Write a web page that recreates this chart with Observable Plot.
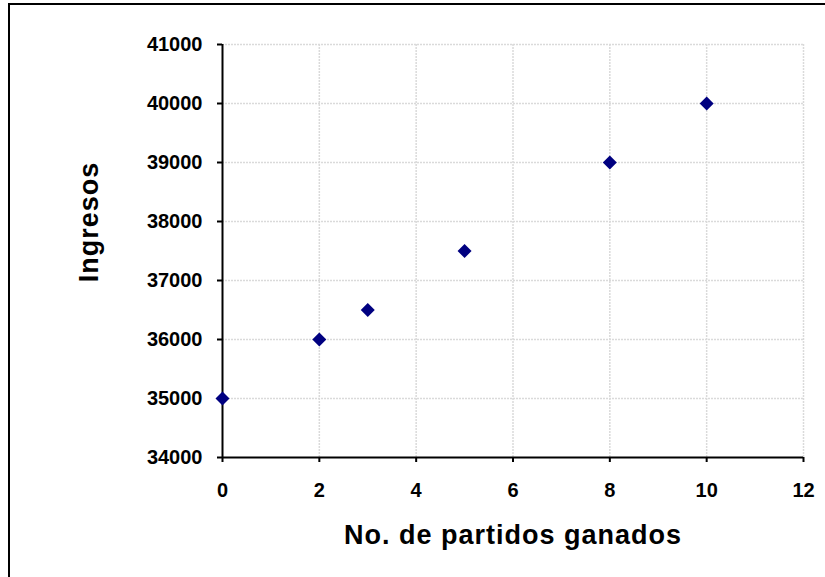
<!DOCTYPE html>
<html><head><meta charset="utf-8">
<script src="https://cdn.jsdelivr.net/npm/d3@7"></script>
<script src="https://cdn.jsdelivr.net/npm/@observablehq/plot@0.6"></script>
<style>
body{margin:0;background:#fff;}
#wrap{position:relative;width:825px;height:577px;overflow:hidden;background:#fff;}
#wrap svg{position:absolute;left:0;top:0;}
#border{position:absolute;left:8px;top:3px;width:900px;height:700px;border-left:2.5px solid #000;border-top:2.5px solid #000;pointer-events:none;}
</style></head><body><div id="wrap"><div id="border"></div></div>
<script>
const partidos = [0, 2, 3, 5, 8, 10];
const ingresos = [35000, 36000, 36500, 37500, 39000, 40000];
const xTicks = [0, 2, 4, 6, 8, 10, 12];
const yTicks = [34000, 35000, 36000, 37000, 38000, 39000, 40000, 41000];
const xTitle = "No. de partidos ganados";
const yTitle = "Ingresos";

const data = partidos.map((x, i) => ({x, y: ingresos[i]}));
const gridStyle = {stroke: "#dadada", strokeOpacity: 1, strokeWidth: 1.5, strokeDasharray: "2,1"};

const chart = Plot.plot({
  width: 825, height: 577,
  marginLeft: 222, marginRight: 22, marginTop: 44, marginBottom: 120,
  x: {domain: [0, 12]},
  y: {domain: [34000, 41000]},
  style: {fontFamily: "'Liberation Sans', Arial, sans-serif", fontSize: "20px", fontWeight: "bold", color: "#000", background: "transparent"},
  marks: [
    Plot.gridX(xTicks.filter(d => d > 0), gridStyle),
    Plot.gridY(yTicks.filter(d => d > 34000), gridStyle),
    Plot.ruleX([0], {stroke: "#000", strokeWidth: 2}),
    Plot.ruleY([34000], {stroke: "#000", strokeWidth: 2}),
    Plot.axisX(xTicks, {tickSize: 5, tickPadding: 20, strokeWidth: 2, tickFormat: d3.format("d"), fontSize: 20, fontWeight: "bold", label: null}),
    Plot.axisY(yTicks, {tickSize: 5, tickPadding: 15, strokeWidth: 2, tickFormat: d3.format("d"), fontSize: 20, fontWeight: "bold", label: null}),
    Plot.dot(data, {x: "x", y: "y", symbol: "diamond2", r: 6.3, fill: "#000080", stroke: "none"}),
    Plot.text([xTitle], {frameAnchor: "bottom", textAnchor: "middle", dy: 86, lineAnchor: "bottom", fontSize: 27, fontWeight: "bold"}),
    Plot.text([yTitle], {frameAnchor: "left", textAnchor: "middle", rotate: -90, dx: -125, dy: -29, lineAnchor: "bottom", fontSize: 27, fontWeight: "bold"})
  ]
});
d3.select(chart).selectAll("text").filter(function() { return this.textContent === xTitle || this.textContent === yTitle; })
  .attr("letter-spacing", "1px");
document.getElementById("wrap").prepend(chart);
</script>
</body></html>
